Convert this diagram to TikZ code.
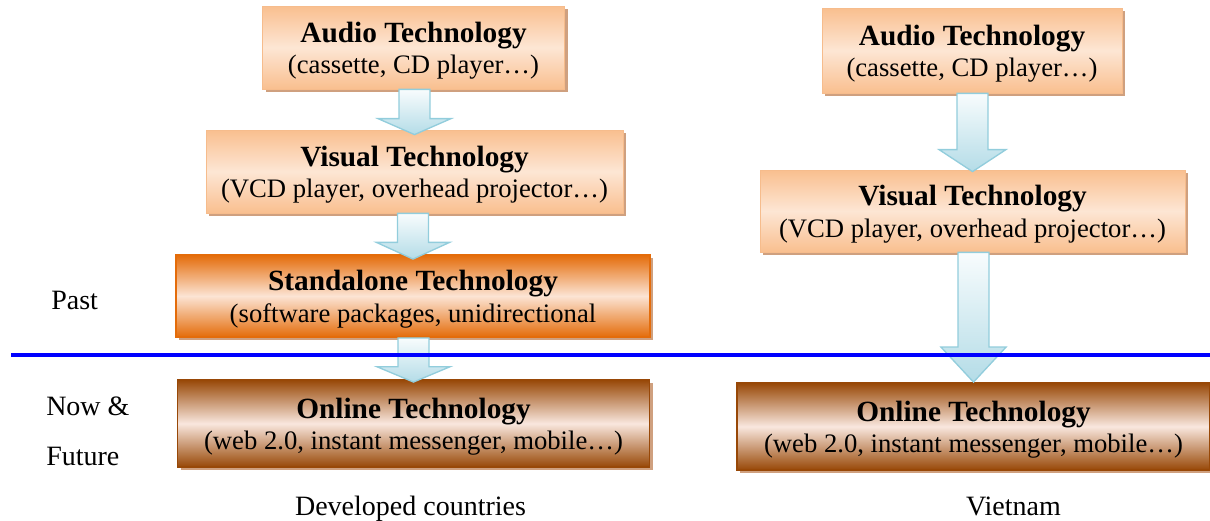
\documentclass[tikz,border=0pt]{standalone}
\usepackage{fontspec}
\setmainfont{Liberation Serif}
\usetikzlibrary{calc,shadows}
\definecolor{peach}{HTML}{F9BF8F}
\definecolor{peachlight}{HTML}{FDE6D4}
\definecolor{peachborder}{HTML}{F6BC8C}
\definecolor{orangeedge}{HTML}{E46C0A}
\definecolor{orangelight}{HTML}{FCE4D4}
\definecolor{brownedge}{HTML}{984807}
\definecolor{brownlight}{HTML}{F9E7DE}
\definecolor{boxshadow}{HTML}{CFA07F}
\definecolor{arrowtop}{HTML}{F8FCFD}
\definecolor{arrowbottom}{HTML}{B4DCE7}
\definecolor{arrowedge}{HTML}{92CDDC}
\definecolor{divblue}{HTML}{0000FF}
\tikzset{
  tbox/.style={rectangle, align=center, inner sep=0pt,
    font=\fontsize{20}{23.5}\selectfont,
    general shadow={shadow xshift=2.6pt, shadow yshift=-2.6pt, fill=boxshadow}},
  peachbox/.style={tbox, draw=peachborder, line width=0.6pt,
    top color=peach, bottom color=peach, middle color=peachlight},
  orangebox/.style={tbox, draw=orangeedge, line width=1.4pt,
    top color=orangeedge, bottom color=orangeedge, middle color=orangelight},
  brownbox/.style={tbox, draw=brownedge, line width=1.4pt,
    top color=brownedge, bottom color=brownedge, middle color=brownlight},
  sidetext/.style={inner sep=0pt, font=\fontsize{21}{25}\selectfont},
  arrowbody/.style={top color=arrowtop, bottom color=arrowbottom, draw=arrowedge, line width=1pt, line join=miter},
  arrowshade/.style={fill=black!55, opacity=0.5, xshift=1.8pt, yshift=-2pt},
  divider/.style={draw=divblue, line width=2.3pt}
}
\newcommand\ttl[1]{{\fontsize{22}{23.5}\selectfont\bfseries\rule{0pt}{20pt}#1}}
% #1 from node, #2 to node, #3 head length, #4 head half width, #5 overlap
\newcommand\blockarrow[5]{%
  \fill[arrowshade] let \p1=(#1.south), \p2=(#2.north) in
    (\x2-11.6pt,\y1) -- (\x2+11.6pt,\y1) -- (\x2+11.6pt,\y2-#5+#3) -- (\x2+#4,\y2-#5+#3)
    -- (\x2,\y2-#5) -- (\x2-#4,\y2-#5+#3) -- (\x2-11.6pt,\y2-#5+#3) -- cycle;
  \draw[arrowbody] let \p1=(#1.south), \p2=(#2.north) in
    (\x2-11.6pt,\y1) -- (\x2+11.6pt,\y1) -- (\x2+11.6pt,\y2-#5+#3) -- (\x2+#4,\y2-#5+#3)
    -- (\x2,\y2-#5) -- (\x2-#4,\y2-#5+#3) -- (\x2-11.6pt,\y2-#5+#3) -- cycle;
}
\begin{document}
\begin{tikzpicture}[x=0.75pt,y=-0.75pt]
\useasboundingbox (0,0) rectangle (1210,521);
% left column
\node[peachbox, minimum width=226.5pt, minimum height=62.25pt] (la) at (413.5,47.5)
  {\ttl{Audio Technology}\\(cassette, CD player…)};
\node[peachbox, minimum width=312.75pt, minimum height=62.25pt] (lv) at (414.5,171.5)
  {\ttl{Visual Technology}\\(VCD player, overhead projector…)};
\node[orangebox, minimum width=355.5pt, minimum height=61.5pt] (ls) at (413,296)
  {\ttl{Standalone Technology}\\(software packages, unidirectional};
\node[brownbox, minimum width=354pt, minimum height=65.25pt] (lo) at (413.5,423.5)
  {\ttl{Online Technology}\\(web 2.0, instant messenger, mobile…)};
% right column
\node[peachbox, minimum width=225pt, minimum height=63.75pt] (ra) at (972,50.5)
  {\ttl{Audio Technology}\\(cassette, CD player…)};
\node[peachbox, minimum width=318.75pt, minimum height=61.5pt] (rv) at (972.5,211)
  {\ttl{Visual Technology}\\(VCD player, overhead projector…)};
\node[brownbox, minimum width=354.75pt, minimum height=65.25pt] (ro) at (973.5,426.5)
  {\ttl{Online Technology}\\(web 2.0, instant messenger, mobile…)};
% arrows
\blockarrow{la}{lv}{12pt}{27.4pt}{3.75pt}
\blockarrow{lv}{ls}{12.5pt}{27.4pt}{3.75pt}
\blockarrow{ls}{lo}{11.5pt}{27.4pt}{2.25pt}
\blockarrow{ra}{rv}{16.5pt}{25.1pt}{1.5pt}
\blockarrow{rv}{ro}{26.25pt}{24.4pt}{0pt}
% divider
\coordinate (dl) at (11,355);
\coordinate (dr) at (1210,355);
\draw[divider] (dl) -- (dr);
% labels
\node[sidetext, anchor=base west] (past) at (51,309) {Past};
\node[sidetext, anchor=base west] (now) at (46,415) {Now \&};
\node[sidetext, anchor=base west] (fut) at (46,465) {Future};
\node[sidetext, anchor=base] (dev) at (410.5,515) {Developed countries};
\node[sidetext, anchor=base] (vn) at (1013.5,515) {Vietnam};
\end{tikzpicture}
\end{document}
